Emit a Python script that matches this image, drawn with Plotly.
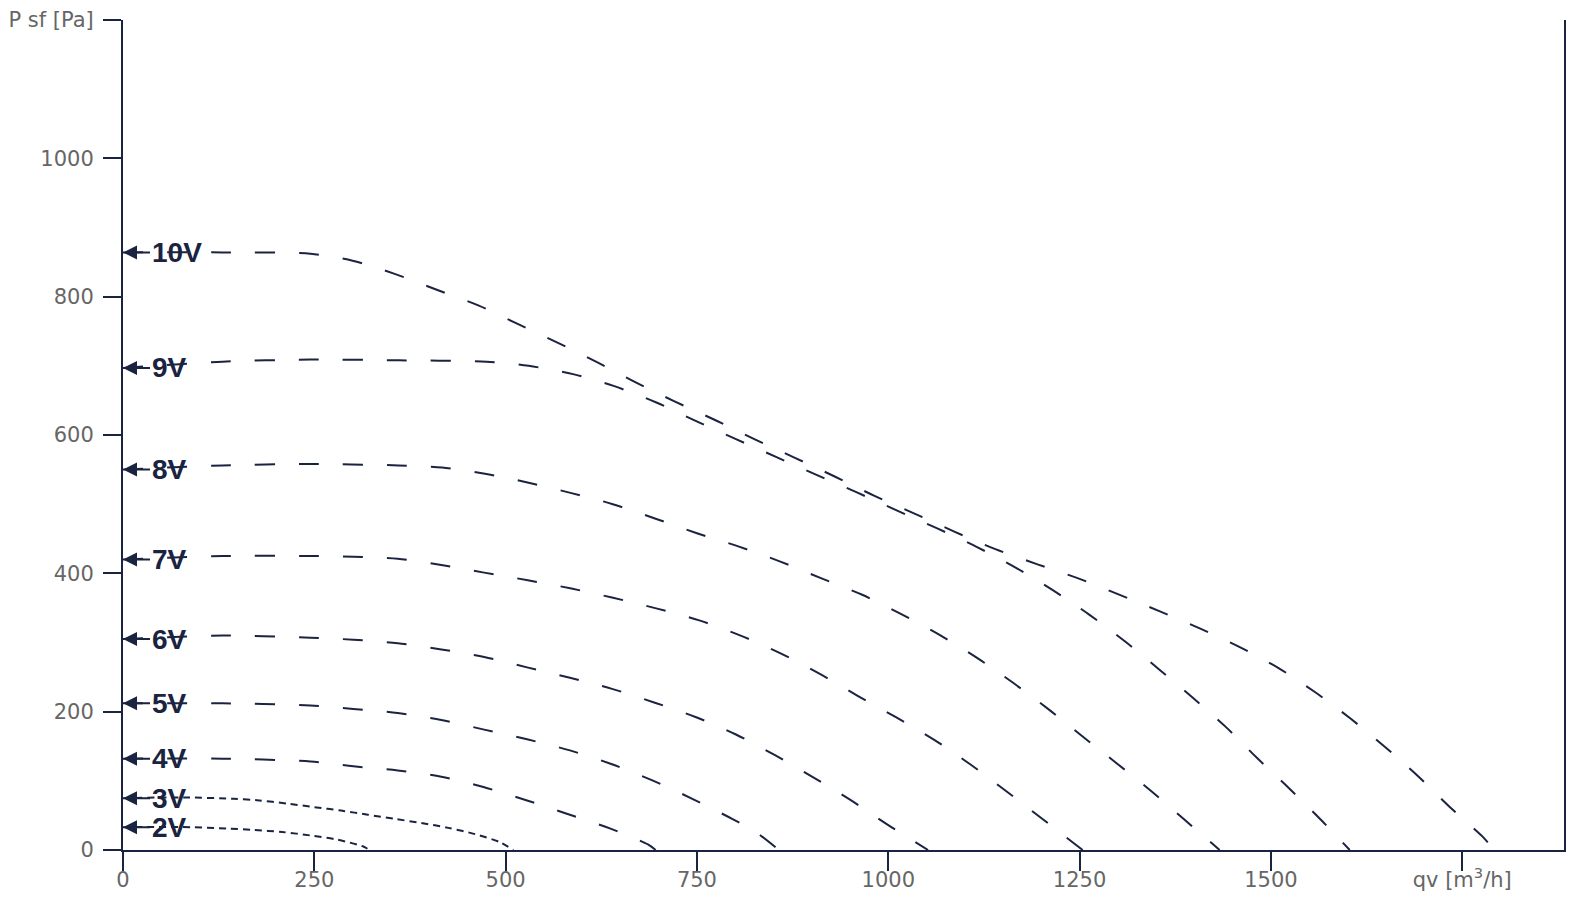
import plotly.graph_objects as go

# fan curves (qv in m3/h, P sf in Pa)
q_10v = [0, 130, 245, 300, 355, 410, 465, 515, 567, 620, 670, 720, 775, 825, 878, 930, 982, 1035,
         1087, 1140, 1195, 1250, 1300, 1355, 1410, 1460, 1510, 1558, 1604, 1648, 1692, 1733, 1776, 1792]
p_10v = [864, 864, 862, 852, 833, 810, 787, 761, 734, 705, 676, 649, 621, 594, 567, 540, 512, 486,
         460, 435, 413, 392, 370, 345, 319, 293, 263, 228, 190, 150, 107, 63, 20, 0]

q_9v = [0, 130, 245, 360, 475, 530, 588, 641, 697, 749, 801, 854, 907, 959, 1011, 1064, 1116,
        1167, 1216, 1263, 1310, 1354, 1398, 1441, 1482, 1524, 1565, 1603]
p_9v = [697, 706, 709, 708, 706, 700, 688, 671, 647, 620, 594, 568, 542, 517, 491, 465, 438,
        408, 375, 340, 301, 261, 220, 178, 133, 89, 44, 0]

q_8v = [0, 130, 245, 360, 417, 473, 530, 586, 640, 696, 750, 804, 859, 912, 966, 1017, 1067,
        1117, 1164, 1210, 1254, 1300, 1345, 1388, 1433]
p_8v = [550, 556, 558, 556, 553, 544, 531, 516, 500, 479, 458, 439, 417, 393, 369, 341, 311,
        277, 241, 203, 164, 124, 84, 43, 0]

q_7v = [0, 130, 245, 301, 359, 416, 472, 529, 586, 639, 698, 753, 807, 860, 910, 960, 1010,
        1059, 1107, 1153, 1199, 1254]
p_7v = [420, 425, 425, 424, 421, 412, 401, 390, 378, 365, 349, 332, 310, 284, 255, 223, 192,
        160, 124, 86, 47, 0]

q_6v = [0, 130, 245, 301, 359, 416, 472, 528, 584, 639, 695, 749, 801, 852, 902, 951, 1000, 1052]
p_6v = [305, 310, 307, 304, 299, 290, 279, 264, 249, 233, 213, 192, 167, 137, 105, 72, 36, 0]

q_5v = [0, 130, 245, 301, 359, 416, 472, 528, 584, 639, 691, 744, 796, 828, 857]
p_5v = [212, 212, 209, 204, 198, 188, 174, 160, 144, 124, 101, 74, 45, 25, 0]

q_4v = [0, 130, 245, 301, 359, 416, 471, 527, 581, 637, 686, 696]
p_4v = [132, 132, 128, 121, 115, 106, 91, 72, 52, 31, 8, 0]

q_3v = [0, 80, 145, 175, 215, 250, 285, 320, 355, 390, 425, 460, 493, 510]
p_3v = [75, 76, 74, 72, 67, 62, 57, 51, 45, 39, 32, 23, 11, 0]

q_2v = [0, 92, 136, 171, 208, 245, 280, 314, 322]
p_2v = [33, 33, 31, 29, 26, 21, 15, 5, 0]

curves = [
    ("10V", q_10v, p_10v), ("9V", q_9v, p_9v), ("8V", q_8v, p_8v), ("7V", q_7v, p_7v),
    ("6V", q_6v, p_6v), ("5V", q_5v, p_5v), ("4V", q_4v, p_4v), ("3V", q_3v, p_3v),
    ("2V", q_2v, p_2v),
]

x_ticks = [0, 250, 500, 750, 1000, 1250, 1500, 1750]
x_ticktext = ["0", "250", "500", "750", "1000", "1250", "1500", "qv [m<sup>3</sup>/h]"]
y_ticks = [0, 200, 400, 600, 800, 1000, 1200]
y_ticktext = ["0", "200", "400", "600", "800", "1000", "P sf [Pa]"]

NAVY = "#1a2340"
GREY = "#666666"

fig = go.Figure()
for name, q, p in curves:
    short = name in ("2V", "3V")
    fig.add_trace(go.Scatter(
        x=q, y=p, name=name, mode="lines",
        line=dict(color=NAVY, width=2, shape="spline", smoothing=0.8,
                  dash="7px,5px" if short else "20px,24px"),
        showlegend=False))
    # label with arrow pointing at the y axis
    fig.add_annotation(
        x=0, y=p[0], text="<b>%s</b>" % name, showarrow=True,
        ax=27, ay=0, xanchor="left", yanchor="middle",
        arrowhead=2, arrowsize=1.4, arrowwidth=2, arrowcolor=NAVY,
        font=dict(family="Liberation Sans, Arial, sans-serif", size=28, color=NAVY))

# the page body adds an 8px offset, margins compensate for it
fig.update_layout(
    width=1584, height=906,
    margin=dict(l=115, r=28, t=12, b=64),
    paper_bgcolor="white", plot_bgcolor="white",
    font=dict(family="DejaVu Sans, sans-serif", size=21, color=GREY),
    xaxis=dict(range=[0, 1883], tickvals=x_ticks, ticktext=x_ticktext, automargin=False,
               showgrid=False, zeroline=False, showline=True, linecolor=NAVY, linewidth=2,
               ticks="outside", ticklen=19, tickwidth=2, tickcolor=NAVY,
               ticklabelstandoff=-9),
    yaxis=dict(range=[0, 1200], tickvals=y_ticks, ticktext=y_ticktext, automargin=False,
               showgrid=False, zeroline=False, showline=True, linecolor=NAVY, linewidth=2,
               mirror=True, ticks="outside", ticklen=18, tickwidth=2, tickcolor=NAVY,
               ticklabelstandoff=5),
)

fig.write_html("out.html")
